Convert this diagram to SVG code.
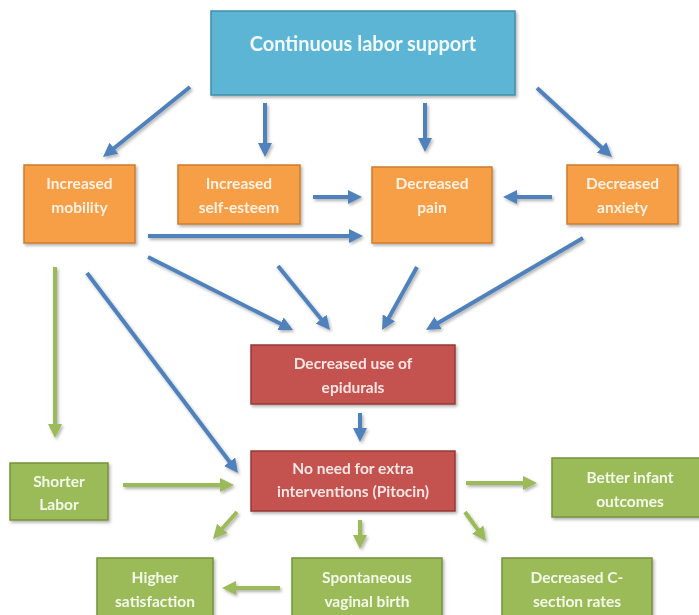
<svg xmlns="http://www.w3.org/2000/svg" width="699" height="615" viewBox="0 0 699 615">
<style>
.box{stroke-width:1.5}
.blue{fill:#5bb5d5;stroke:#3f8eaa}
.orange{fill:#f79f46;stroke:#d07c2c}
.red{fill:#c4524f;stroke:#973935}
.green{fill:#9bbb59;stroke:#76923c}
text{font-family:Lato,"Liberation Sans",sans-serif;font-weight:bold;text-anchor:middle;font-size:15.5px}
.t-o{fill:#fdf1e3}
.t-r{fill:#f9e6e4}
.t-g{fill:#f4f8ea}
.t-b{fill:#f2fbfd;font-size:20px}
.ab{stroke:#4f81bd;stroke-width:4;fill:none;marker-end:url(#hb)}
.ag{stroke:#9bbb59;stroke-width:4;fill:none;marker-end:url(#hg)}
</style>
<defs>
<filter id="sh" x="-10%" y="-10%" width="130%" height="140%"><feDropShadow dx="1.5" dy="2" stdDeviation="1.5" flood-color="#000" flood-opacity="0.3"/></filter>
<marker id="hb" markerUnits="userSpaceOnUse" markerWidth="16" markerHeight="16" refX="4" refY="7" orient="auto"><path d="M0,0 L14,7 L0,14 z" fill="#4f81bd"/></marker>
<marker id="hg" markerUnits="userSpaceOnUse" markerWidth="16" markerHeight="16" refX="4" refY="7" orient="auto"><path d="M0,0 L14,7 L0,14 z" fill="#9bbb59"/></marker>
</defs>
<rect width="699" height="615" fill="#fff"/>
<g id="connectors" filter="url(#sh)">
<line class="ab" x1="190" y1="87" x2="110.8" y2="150.7"/>
<line class="ab" x1="265" y1="103" x2="265" y2="147"/>
<line class="ab" x1="425" y1="103" x2="425" y2="142"/>
<line class="ab" x1="537" y1="88" x2="604.6" y2="150.2"/>
<line class="ab" x1="313" y1="197" x2="352" y2="197"/>
<line class="ab" x1="552" y1="197" x2="513" y2="197"/>
<line class="ab" x1="148" y1="236" x2="353" y2="236"/>
<line class="ab" x1="148" y1="257" x2="284.1" y2="325.5"/>
<line class="ab" x1="278" y1="266" x2="323.7" y2="322.2"/>
<line class="ab" x1="417" y1="267" x2="386.9" y2="321.3"/>
<line class="ab" x1="583" y1="238" x2="434.6" y2="324.9"/>
<line class="ab" x1="87" y1="273" x2="232" y2="465"/>
<line class="ab" x1="360" y1="413" x2="360" y2="432"/>
<line class="ag" x1="55" y1="267" x2="55" y2="428"/>
<line class="ag" x1="123" y1="485" x2="224" y2="485"/>
<line class="ag" x1="237" y1="512" x2="219.6" y2="531.5"/>
<line class="ag" x1="280" y1="588" x2="232" y2="588"/>
<line class="ag" x1="360" y1="520" x2="360" y2="539"/>
<line class="ag" x1="465" y1="512" x2="480.1" y2="532.9"/>
<line class="ag" x1="466" y1="483" x2="527" y2="483"/>
</g>
<g id="n-support" filter="url(#sh)"><rect class="box blue" x="211" y="11" width="304" height="84"/><text class="t-b" x="363" y="51">Continuous labor support</text></g>
<g id="n-mobility" filter="url(#sh)"><rect class="box orange" x="24" y="165" width="111" height="78"/><text class="t-o" x="79.5" y="189">Increased</text><text class="t-o" x="79.5" y="213">mobility</text></g>
<g id="n-selfesteem" filter="url(#sh)"><rect class="box orange" x="178" y="165" width="122" height="59"/><text class="t-o" x="239" y="189">Increased</text><text class="t-o" x="239" y="213">self-esteem</text></g>
<g id="n-pain" filter="url(#sh)"><rect class="box orange" x="372" y="167" width="120" height="76"/><text class="t-o" x="432" y="189">Decreased</text><text class="t-o" x="432" y="213">pain</text></g>
<g id="n-anxiety" filter="url(#sh)"><rect class="box orange" x="567" y="165" width="111" height="59"/><text class="t-o" x="622.5" y="189">Decreased</text><text class="t-o" x="622.5" y="213">anxiety</text></g>
<g id="n-epidurals" filter="url(#sh)"><rect class="box red" x="251" y="345" width="204" height="59"/><text class="t-r" x="353" y="369">Decreased use of</text><text class="t-r" x="353" y="393">epidurals</text></g>
<g id="n-noneed" filter="url(#sh)"><rect class="box red" x="251" y="451" width="204" height="60"/><text class="t-r" x="353" y="474">No need for extra</text><text class="t-r" x="353" y="497">interventions (Pitocin)</text></g>
<g id="n-shorter" filter="url(#sh)"><rect class="box green" x="10" y="463" width="98" height="57"/><text class="t-g" x="59" y="487">Shorter</text><text class="t-g" x="59" y="510">Labor</text></g>
<g id="n-better" filter="url(#sh)"><rect class="box green" x="552" y="458" width="154" height="59"/><text class="t-g" x="630" y="483">Better infant</text><text class="t-g" x="630" y="507">outcomes</text></g>
<g id="n-higher" filter="url(#sh)"><rect class="box green" x="97" y="558" width="116" height="64"/><text class="t-g" x="155" y="583">Higher</text><text class="t-g" x="155" y="607">satisfaction</text></g>
<g id="n-spont" filter="url(#sh)"><rect class="box green" x="292" y="558" width="150" height="64"/><text class="t-g" x="367" y="583">Spontaneous</text><text class="t-g" x="367" y="607">vaginal birth</text></g>
<g id="n-csection" filter="url(#sh)"><rect class="box green" x="502" y="558" width="150" height="64"/><text class="t-g" x="577" y="583">Decreased C-</text><text class="t-g" x="577" y="607">section rates</text></g>
</svg>
